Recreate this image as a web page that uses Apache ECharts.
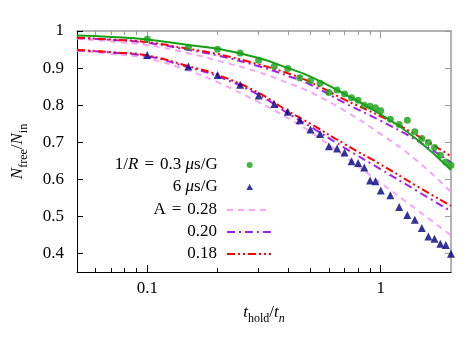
<!DOCTYPE html>
<html><head><meta charset="utf-8">
<script src="https://cdn.jsdelivr.net/npm/echarts@6/dist/echarts.min.js"></script>
<style>html,body{margin:0;padding:0;background:#fff}#c{width:469px;height:341px}</style>
</head><body><div id="c"></div>
<script>
// measured data (x = t_hold/t_n)
const dataX = [0.1,0.15,0.2,0.25,0.3,0.35,0.4,0.45,0.5,0.55,0.6,0.65,0.7,0.75,0.8,0.85,0.9,0.95,1.0,1.1,1.2,1.3,1.4,1.5,1.6,1.7,1.8,1.9,2.0];
const greenDots = [0.978,0.956,0.951,0.941,0.921,0.905,0.899,0.874,0.866,0.859,0.834,0.841,0.830,0.820,0.813,0.800,0.797,0.793,0.785,0.762,0.748,0.759,0.728,0.710,0.699,0.686,0.665,0.647,0.638];
const navyTriangles = [0.935,0.904,0.881,0.855,0.826,0.803,0.782,0.759,0.734,0.722,0.689,0.683,0.672,0.649,0.644,0.632,0.597,0.595,0.570,0.557,0.525,0.504,0.491,0.469,0.446,0.440,0.426,0.423,0.399];
// curves
const curveX = [0.05,0.07,0.1,0.15,0.2,0.3,0.4,0.5,0.7,1.0,1.4,2.0];
const fitGreen = [0.988,0.984,0.977,0.962,0.952,0.927,0.900,0.877,0.830,0.775,0.712,0.625];
const upRed = [0.982,0.977,0.970,0.952,0.938,0.910,0.886,0.862,0.815,0.770,0.722,0.662];
const upPurple = [0.981,0.976,0.968,0.949,0.934,0.905,0.879,0.855,0.806,0.758,0.708,0.646];
const upPink = [0.979,0.972,0.962,0.940,0.920,0.889,0.860,0.835,0.785,0.722,0.655,0.566];
const loRed = [0.949,0.943,0.934,0.905,0.882,0.833,0.784,0.750,0.695,0.640,0.585,0.528];
const loPurple = [0.948,0.942,0.932,0.902,0.878,0.828,0.778,0.742,0.685,0.627,0.572,0.514];
const loPink = [0.946,0.938,0.926,0.893,0.862,0.808,0.765,0.728,0.662,0.590,0.522,0.449];
// ticks
const xMajor = [0.1,1];
const xMinor = [0.06,0.07,0.08,0.09,0.2,0.3,0.4,0.5,0.6,0.7,0.8,0.9];
const yTicks = [0.4,0.5,0.6,0.7,0.8,0.9,1.0];

const FONT = 'Liberation Serif';
const pair = (xs, ys) => xs.map((x, i) => [x, ys[i]]);
const PINK = '#f7a6f7', PURPLE = '#a020f0', RED = '#ff0000', GREEN = '#16a016', NAVY = '#000080';
const dashPink = [6,5], dashPurple = [8,4,2,4], dashRed = [8,3,2,3,2,3];
const TRI = 'path://M0 9L5 0L10 9Z';

function curve(name, ys, color, dash, width) {
  return { type: 'line', name, data: pair(curveX, ys), smooth: true, symbol: 'none', z: 2,
    lineStyle: { color, width: width || 2, type: dash }, itemStyle: { color } };
}
const rich = {
  i: { fontFamily: FONT, fontStyle: 'italic', fontSize: 17, lineHeight: 22, color: '#000' },
  n: { fontFamily: FONT, fontSize: 17, lineHeight: 22, color: '#000' },
  e: { fontFamily: FONT, fontSize: 17, lineHeight: 22, color: '#000', padding: [0, 6, 0, 6] }
};
const legendNames = {
  r03: '{n|1/}{i|R}{e|=}{n|0.3 }{i|μ}{n|s/G}',
  r6: '{n|6 }{i|μ}{n|s/G}',
  a28: '{n|A}{e|=}{n|0.28}', a20: '{n|0.20}', a18: '{n|0.18}'
};
const xAxisBase = (pos, color, ticks, len, showLine, labels) => ({
  type: 'log', logBase: 10, min: 0.05, max: 2, position: pos,
  axisLine: { show: showLine, lineStyle: { color, width: pos === 'top' ? 1.5 : 1 } },
  axisTick: { show: true, inside: true, length: len, customValues: ticks, lineStyle: { color, width: 1 } },
  axisLabel: labels ? { show: true, customValues: xMajor, color: '#000', fontFamily: FONT, fontSize: 17, margin: 8,
      formatter: v => String(+v.toPrecision(3)) } : { show: false },
  splitLine: { show: false }, minorTick: { show: false }
});
const xName = {
  name: '{i|t}{s|hold}{n|/}{i|t}{si|n}', nameLocation: 'middle', nameGap: 29,
  nameTextStyle: { rich: {
    i: { fontFamily: FONT, fontStyle: 'italic', fontSize: 17, lineHeight: 24, verticalAlign: 'middle', color: '#000' },
    n: { fontFamily: FONT, fontSize: 17, lineHeight: 24, verticalAlign: 'middle', color: '#000' },
    s: { fontFamily: FONT, fontSize: 12, lineHeight: 12, verticalAlign: 'bottom', color: '#000' },
    si: { fontFamily: FONT, fontStyle: 'italic', fontSize: 12, lineHeight: 12, verticalAlign: 'bottom', color: '#000' }
  } }
};
const legendCommon = {
  orient: 'vertical', align: 'right', padding: 0, itemWidth: 44, itemGap: 0, symbolKeepAspect: true,
  formatter: n => legendNames[n],
  textStyle: { fontFamily: FONT, fontSize: 17, lineHeight: 22, color: '#000', padding: [0, 5, 0, 0], rich }
};
const option = {
  animation: false,
  backgroundColor: '#fff',
  grid: { left: 77, right: 18, top: 31, bottom: 69, outerBoundsMode: 'none', containLabel: false },
  xAxis: [
    Object.assign(xAxisBase('bottom', '#000', xMajor, 7, true, true), xName),
    xAxisBase('bottom', '#000', xMinor, 4, false, false),
    xAxisBase('top', '#9a9a9a', xMajor, 7, true, false),
    xAxisBase('top', '#9a9a9a', xMinor, 4, false, false)
  ],
  yAxis: [
    { type: 'value', min: 0.35, max: 1, position: 'left',
      axisLine: { show: true, lineStyle: { color: '#000', width: 1 } },
      axisTick: { show: true, inside: true, length: 6, customValues: yTicks, lineStyle: { color: '#000' } },
      axisLabel: { show: true, customValues: yTicks, color: '#000', fontFamily: FONT, fontSize: 17, margin: 13,
        formatter: v => (Math.abs(v - 1) < 1e-9 ? '1' : (+v).toFixed(1)) },
      splitLine: { show: false },
      name: '{i|N}{s|free}{n|/}{i|N}{s|in}', nameLocation: 'middle', nameGap: 47, nameRotate: 90,
      nameTextStyle: { rich: {
        i: { fontFamily: FONT, fontStyle: 'italic', fontSize: 17, lineHeight: 24, verticalAlign: 'middle', color: '#000' },
        n: { fontFamily: FONT, fontSize: 17, lineHeight: 24, verticalAlign: 'middle', color: '#000' },
        s: { fontFamily: FONT, fontSize: 12, lineHeight: 12, verticalAlign: 'bottom', color: '#000' }
      } } },
    { type: 'value', min: 0.35, max: 1, position: 'right',
      axisLine: { show: true, lineStyle: { color: '#9a9a9a', width: 1.5 } },
      axisTick: { show: true, inside: true, length: 6, customValues: yTicks, lineStyle: { color: '#9a9a9a' } },
      axisLabel: { show: false }, splitLine: { show: false } }
  ],
  legend: [
    Object.assign({}, legendCommon, { top: 154, right: 216, itemHeight: 6,
      data: [{ name: 'r03', icon: 'circle' }, { name: 'r6', icon: TRI }] }),
    Object.assign({}, legendCommon, { top: 199, right: 197, itemHeight: 14,
      data: [{ name: 'a28', itemStyle: { opacity: 0 } }, { name: 'a20', itemStyle: { opacity: 0 } }, { name: 'a18', itemStyle: { opacity: 0 } }] })
  ],
  series: [
    curve('a28', upPink, PINK, dashPink),
    curve('a28', loPink, PINK, dashPink),
    curve('a20', upPurple, PURPLE, dashPurple),
    curve('a20', loPurple, PURPLE, dashPurple),
    curve('a18', upRed, RED, dashRed),
    curve('a18', loRed, RED, dashRed),
    curve('fit', fitGreen, GREEN, 'solid', 2),
    { type: 'scatter', name: 'r03', data: pair(dataX, greenDots), symbol: 'circle', symbolSize: 7, z: 3,
      itemStyle: { color: GREEN } },
    { type: 'scatter', name: 'r6', data: pair(dataX, navyTriangles), symbol: 'triangle', symbolSize: 8, z: 3,
      itemStyle: { color: NAVY } }
  ]
};
echarts.init(document.getElementById('c'), null, { renderer: 'canvas' }).setOption(option);
</script></body></html>
